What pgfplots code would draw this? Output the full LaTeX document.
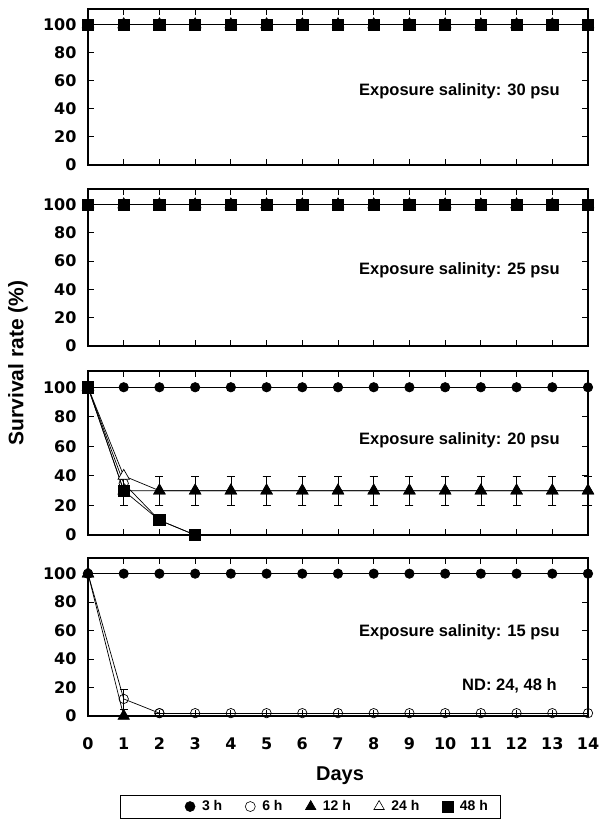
\documentclass[border=0pt]{standalone}
\usepackage{pgfplots}
\pgfplotsset{compat=1.18}
\usepackage{fontspec}
\setmainfont{Liberation Sans}
\newfontfamily\tickfont{DejaVu Sans}

\tikzset{lbl/.style={font=\bfseries\fontsize{16.5}{18}\selectfont}}
\pgfplotsset{
  panel/.style={
    scale only axis, width=500pt,
    xmin=0, xmax=14, ymin=0, ymax=111,
    xtick={0,...,14}, ytick={0,20,...,100},
    tick align=inside, major tick length=6pt,
    axis line style={line width=1.3pt}, tick style={line width=1pt, black},
    clip=false,
    /pgf/number format/assume math mode=true,
    tick label style={font=\tickfont\bfseries\fontsize{16}{18}\selectfont},
    yticklabel style={xshift=-8pt},
    anchor=north west,
  },
  s3/.style={black, line width=0.7pt, mark=*, mark size=4.7pt, mark options={fill=black}},
  s6/.style={black, line width=0.7pt, mark=o, mark size=4.7pt, mark options={fill=white}},
  s12/.style={black, line width=0.7pt, mark=triangle*, mark size=6.5pt, mark options={fill=black}},
  s24/.style={black, line width=0.7pt, mark=triangle*, mark size=6.5pt, mark options={fill=white}},
  s48/.style={black, line width=0.7pt, mark=square*, mark size=5.6pt, mark options={fill=black}},
  eb/.style={error bars/y dir=both, error bars/y explicit,
    error bars/error bar style={line width=0.7pt},
    error bars/error mark options={rotate=90, mark size=4pt, line width=0.7pt}},
}

\pgfplotstableread{
day val
0 100
1 100
2 100
3 100
4 100
5 100
6 100
7 100
8 100
9 100
10 100
11 100
12 100
13 100
14 100
}\full

\pgfplotstableread{
day val
2 2
3 2
4 2
5 2
6 2
7 2
8 2
9 2
10 2
11 2
12 2
13 2
14 2
}\two

\begin{document}
\begin{tikzpicture}
\useasboundingbox (0,0) rectangle (600pt,-821pt);

% 30 psu
\begin{axis}[panel, at={(88pt,-9pt)}, height=156pt, xticklabels={}]
\addplot[s3] table[x=day,y=val] {\full};
\addplot[s6] table[x=day,y=val] {\full};
\addplot[s12] table[x=day,y=val] {\full};
\addplot[s24] table[x=day,y=val] {\full};
\addplot[s48] table[x=day,y=val] {\full};
\node[lbl] at (axis cs:10.4,52.7) {Exposure salinity: 30 psu};
\end{axis}

% 25 psu
\begin{axis}[panel, at={(88pt,-189pt)}, height=157pt, xticklabels={}]
\addplot[s3] table[x=day,y=val] {\full};
\addplot[s6] table[x=day,y=val] {\full};
\addplot[s12] table[x=day,y=val] {\full};
\addplot[s24] table[x=day,y=val] {\full};
\addplot[s48] table[x=day,y=val] {\full};
\node[lbl] at (axis cs:10.4,53.7) {Exposure salinity: 25 psu};
\end{axis}

% 20 psu
\begin{axis}[panel, at={(88pt,-371pt)}, height=164pt, xticklabels={}]
\addplot[s3] table[x=day,y=val] {\full};
\addplot[s6] coordinates {(0,100) (1,35) (2,10) (3,0)};
\addplot[s24, eb] coordinates {(0,100) (1,40) (2,30) +- (0,10) (3,30) +- (0,10) (4,30) +- (0,10) (5,30) +- (0,10) (6,30) +- (0,10) (7,30) +- (0,10) (8,30) +- (0,10) (9,30) +- (0,10) (10,30) +- (0,10) (11,30) +- (0,10) (12,30) +- (0,10) (13,30) +- (0,10) (14,30) +- (0,10)};
\addplot[s12, eb] coordinates {(0,100) (1,30) +- (0,10) (2,30) +- (0,10) (3,30) +- (0,10) (4,30) +- (0,10) (5,30) +- (0,10) (6,30) +- (0,10) (7,30) +- (0,10) (8,30) +- (0,10) (9,30) +- (0,10) (10,30) +- (0,10) (11,30) +- (0,10) (12,30) +- (0,10) (13,30) +- (0,10) (14,30) +- (0,10)};
\addplot[s48] coordinates {(0,100) (1,30) (2,10) (3,0)};
\node[lbl] at (axis cs:10.4,64) {Exposure salinity: 20 psu};
\end{axis}

% 15 psu
\begin{axis}[panel, at={(88pt,-558pt)}, height=158pt,
  xticklabel style={yshift=-18pt},
  legend style={at={(axis description cs:0.50,-0.573)}, anchor=center,
    legend columns=-1, draw=none, fill=none,
    font=\bfseries\fontsize{14}{16}\selectfont,
    nodes={inner sep=3pt},
    /tikz/every odd column/.append style={column sep=4pt},
    /tikz/every even column/.append style={column sep=20pt}},
  legend image code/.code={\draw[#1, line width=0.6pt] plot coordinates {(0pt,0pt)};},
]
\addlegendimage{s3, mark size=5pt}
\addlegendentry{3 h}
\addlegendimage{s6, mark size=5pt}
\addlegendentry{6 h}
\addlegendimage{s12, mark size=6pt}
\addlegendentry{12 h}
\addlegendimage{s24, mark size=6pt}
\addlegendentry{24 h}
\addlegendimage{s48, mark size=5.3pt}
\addlegendentry{48 h}
\addplot[s3, forget plot] table[x=day,y=val] {\full};
\addplot[s6, eb, forget plot] coordinates {(0,100) (1,12) +- (0,7) (2,2) +- (0,0)};
\addplot[s6, forget plot] table[x=day,y=val] {\two};
\addplot[s24, forget plot] coordinates {(0,100)};
\addplot[s12, forget plot] coordinates {(0,100) (1,0)};
\node[lbl] at (axis cs:10.4,59) {Exposure salinity: 15 psu};
\node[lbl] at (axis cs:11.8,21) {ND: 24, 48 h};
\end{axis}

\draw[line width=0.9pt] (120pt,-795pt) rectangle (500pt,-818pt);
\node[rotate=90, font=\bfseries\fontsize{21}{24}\selectfont] at (18pt,-363pt) {Survival rate (\%)};
\node[font=\bfseries\fontsize{20}{24}\selectfont] at (340pt,-776pt) {Days};
\end{tikzpicture}
\end{document}
